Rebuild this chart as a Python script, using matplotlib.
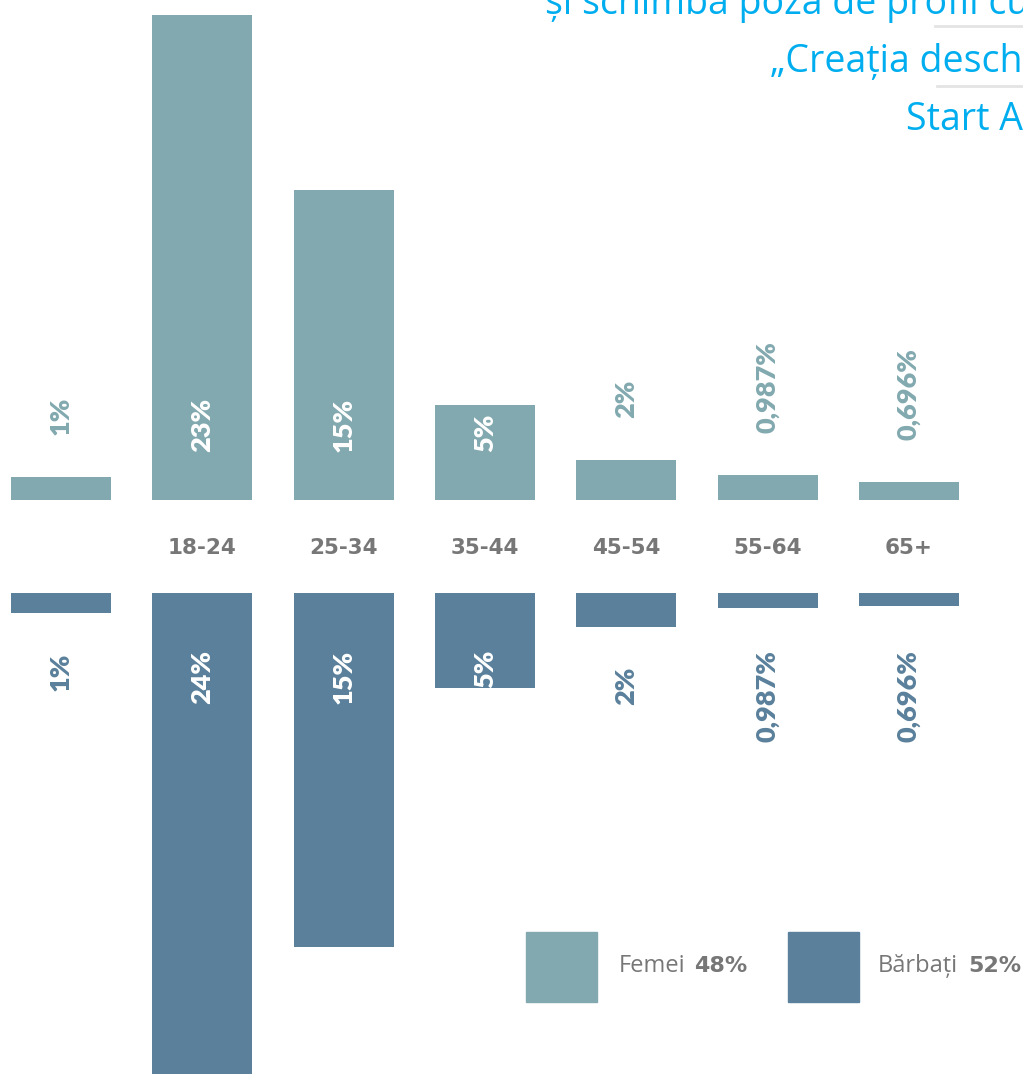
import matplotlib.pyplot as plt
from matplotlib.patches import Rectangle
from matplotlib.lines import Line2D

groups = ["", "18-24", "25-34", "35-44", "45-54", "55-64", "65+"]
femei = [1.1, 23.0, 14.7, 4.5, 1.9, 1.2, 0.85]
barbati = [0.95, 22.8, 16.8, 4.5, 1.6, 0.7, 0.6]
femei_labels = ["1%", "23%", "15%", "5%", "2%", "0,987%", "0,696%"]
barbati_labels = ["1%", "24%", "15%", "5%", "2%", "0,987%", "0,696%"]
legend_names = ["Femei", "Bărbați"]
legend_totals = ["48%", "52%"]
title_lines = ["și schimbă poza de profil cu", "„Creația deschisă", "Start Art"]

c_fem = "#82a9af"
c_bar = "#5a809b"
c_gray = "#777777"
c_blue = "#00aeef"

W, H = 1023, 1074
px = 1 / 21.09          # one pixel in value units
step = 141.3            # pixels between category centres

fig = plt.figure(figsize=(W / 100, H / 100), dpi=100)
ax_top = fig.add_axes([0, (H - 500) / H, 1, 500 / H])
ax_bot = fig.add_axes([0, 0, 1, 481 / H])

x = list(range(len(groups)))
for ax in (ax_top, ax_bot):
    ax.set_xlim(-61 / step, (W - 61) / step)
    ax.axis("off")
ax_top.set_ylim(0, 500 * px)
ax_bot.set_ylim(481 * px, 0)

width = 100 / step
ax_top.bar(x, femei, width=width, color=c_fem)
ax_bot.bar(x, barbati, width=width, color=c_bar)

lab_font = dict(family="Lato", fontweight="heavy", fontsize=19.5, rotation=90,
                ha="center", clip_on=False)

for i, (v, lab) in enumerate(zip(femei, femei_labels)):
    if v > 3:
        ax_top.text(i, 48 * px, lab, va="bottom", color="white", **lab_font)
    else:
        ax_top.text(i, v + 42 * px, lab, va="bottom", color=c_fem, **lab_font)

for i, (v, lab) in enumerate(zip(barbati, barbati_labels)):
    if v > 3:
        ax_bot.text(i, 57 * px, lab, va="top", color="white", **lab_font)
    else:
        ax_bot.text(i, max(v + 40 * px, 57 * px), lab, va="top", color=c_bar, **lab_font)

for i, g in enumerate(groups):
    ax_top.text(i, -48 * px, g, ha="center", va="center", clip_on=False,
                family="DejaVu Sans", fontweight="bold", fontsize=15.5, color=c_gray)

# legend
for (sx, tx, bx), name, tot, col in zip([(526, 619, 694), (788, 878, 968)],
                                        legend_names, legend_totals, [c_fem, c_bar]):
    fig.add_artist(Rectangle((sx / W, 1 - 1002 / H), 71 / W, 70 / H,
                             transform=fig.transFigure, color=col))
    fig.text(tx / W, 1 - 966 / H, name, va="center", family="Open Sans",
             fontsize=17, color=c_gray)
    fig.text(bx / W, 1 - 966 / H, tot, va="center", family="DejaVu Sans",
             fontweight="bold", fontsize=16, color=c_gray)

# header text (cropped at the figure edge, as in the source)
for (lx, base), line in zip([(545, 14), (770, 72), (906, 130)], title_lines):
    fig.text(lx / W, 1 - base / H, line, va="baseline", ha="left",
             family="Open Sans", fontsize=27, color=c_blue)
for yy, x0 in [(26, 935), (86, 937)]:
    fig.add_artist(Line2D([x0 / W, 1], [1 - yy / H] * 2, transform=fig.transFigure,
                          color="#e4e4e4", lw=2))

fig.savefig("out.png", dpi=100)
